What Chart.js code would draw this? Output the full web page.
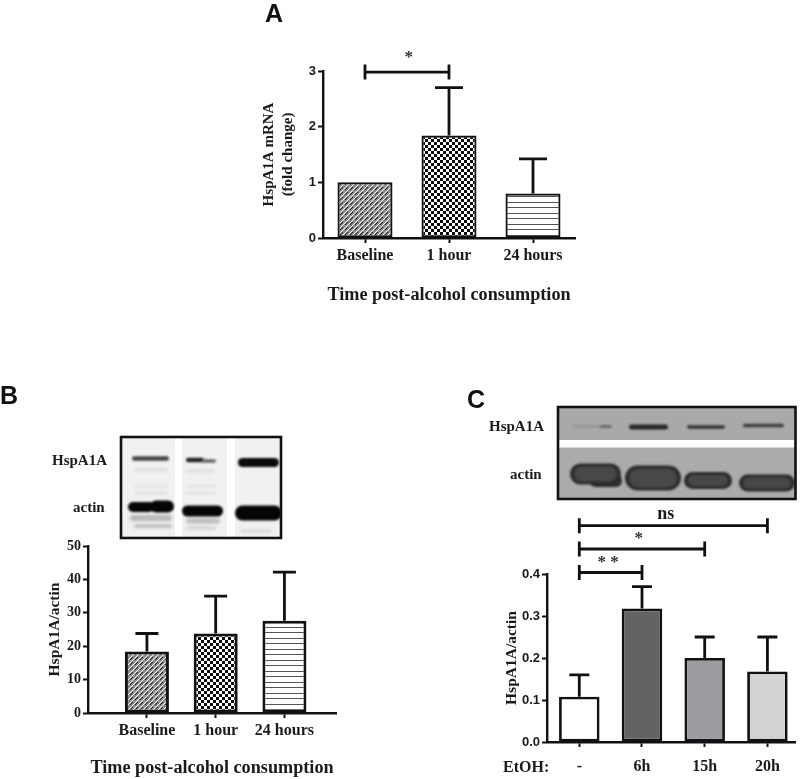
<!DOCTYPE html>
<html><head><meta charset="utf-8">
<style>
html,body{margin:0;padding:0;background:#fff;width:800px;height:779px;overflow:hidden}
canvas{position:absolute;display:block}
.t{position:absolute;white-space:nowrap;line-height:1;color:#1a1a1a}
.s{font:bold 15px "Liberation Serif",serif}
.p{font:bold 25px "Liberation Sans",sans-serif;color:#111}
</style>
<script src="https://cdn.jsdelivr.net/npm/chart.js@4/dist/chart.umd.js"></script>
</head><body>
<canvas id="blots" width="800" height="779" style="left:0;top:0;filter:blur(.5px)"></canvas>
<canvas id="cA" width="325" height="266" style="left:260px;top:40px;filter:blur(.3px)"></canvas>
<canvas id="cB" width="299" height="259" style="left:45px;top:520px;filter:blur(.3px)"></canvas>
<canvas id="cC" width="298" height="279" style="left:502px;top:500px;filter:blur(.3px)"></canvas>
<div class="t p" style="left:265px;top:-1px">A</div>
<div class="t p" style="left:0;top:381px">B</div>
<div class="t p" style="left:467px;top:385px">C</div>
<div class="t s" style="left:52px;top:452px">HspA1A</div>
<div class="t s" style="left:73px;top:499px">actin</div>
<div class="t s" style="left:489px;top:418px">HspA1A</div>
<div class="t s" style="left:510px;top:466px">actin</div>
<div class="t s" style="left:503px;top:758px;font-size:16px">EtOH:</div>
<script>
const catsA = ['Baseline','1 hour','24 hours'];
const valuesA = [1, 1.84, 0.8];
const errTopA = [null, 2.7, 1.42];
const bracketsA = [[0, 1, 2.98, '*', 0.52]];
const catsB = ['Baseline','1 hour','24 hours'];
const valuesB = [18.4, 23.8, 27.6];
const errTopB = [23.8, 35, 42.2];
const catsC = ['-','6h','15h','20h'];
const valuesC = [0.108, 0.318, 0.2, 0.168];
const errTopC = [0.16, 0.37, 0.25, 0.25];
const bracketsC = [[0, 1, 0.4036, '**', 0.46],[0, 2, 0.4595, '*', 0.95],[0, 3, 0.515, 'ns', 1.38]];

const SERIF='"Liberation Serif",serif', SANS='"Liberation Sans",sans-serif';
function tile(w,h,draw){const c=document.createElement('canvas');c.width=w;c.height=h;const x=c.getContext('2d');x.fillStyle='#fff';x.fillRect(0,0,w,h);draw(x);return x.createPattern(c,'repeat');}
const patHatch=tile(5,5,x=>{x.fillStyle='#8c8c8c';x.fillRect(0,0,5,5);
  x.fillStyle='#1c1c1c';[[0,4],[1,3],[2,2]].forEach(p=>x.fillRect(p[0],p[1],1,1));
  x.fillStyle='#ffffff';[[3,4],[4,3],[0,2],[1,1],[2,0]].forEach(p=>x.fillRect(p[0],p[1],1,1));});
const patCheck=tile(6,6,x=>{x.fillStyle='#0c0c0c';x.fillRect(0,0,3,3);x.fillRect(3,3,3,3);});
const patLines=tile(6,11,x=>{x.fillStyle='#555';x.fillRect(0,2,6,1);x.fillRect(0,8,6,1);});

function bracketAndError(cfg){return {id:'marks',afterDatasetsDraw(ch){
  const c=ch.ctx,xs=ch.scales.x,ys=ch.scales.y;c.save();c.strokeStyle='#111';c.fillStyle='#1a1a1a';c.lineCap='butt';
  c.lineWidth=cfg.errW;
  cfg.err.forEach((t,i)=>{if(t==null)return;const px=xs.getPixelForValue(i),a=ys.getPixelForValue(cfg.vals[i]),b=ys.getPixelForValue(t);
    c.beginPath();c.moveTo(px,a);c.lineTo(px,b);c.moveTo(px-cfg.cap,b);c.lineTo(px+cfg.cap,b);c.stroke();});
  (cfg.brackets||[]).forEach(k=>{const l=xs.getPixelForValue(k[0]),r=xs.getPixelForValue(k[1]),y=ys.getPixelForValue(k[2]);
    c.lineWidth=2.8;c.beginPath();c.moveTo(l,y);c.lineTo(r,y);c.moveTo(l,y-7.5);c.lineTo(l,y+7.5);c.moveTo(r,y-7.5);c.lineTo(r,y+7.5);c.stroke();
    c.textAlign='center';c.textBaseline='middle';
    if(k[3]==='ns'){c.font='bold 18px '+SERIF;c.fillText(k[3],xs.getPixelForValue(k[4]),y-11);}
    else{c.font='bold 17px '+SERIF;c.fillStyle='#333';c.fillText(k[3].split('').join(' '),xs.getPixelForValue(k[4]),y-cfg.labelDy);c.fillStyle='#1a1a1a';}
  });
  c.restore();}};}

function make(id,o){
  new Chart(document.getElementById(id),{
    type:'bar',
    data:{datasets:[{data:o.vals.map((v,i)=>({x:i,y:v})),backgroundColor:o.fill,borderColor:'#111',borderWidth:o.bw,borderSkipped:false,categoryPercentage:1,barPercentage:o.barPct}]},
    options:{responsive:false,animation:false,
      layout:{padding:{left:0,right:o.padR,top:o.padT,bottom:0}},
      plugins:{legend:{display:false},tooltip:{enabled:false}},
      scales:{
        x:{type:'linear',min:o.xMin,max:o.xMax,offset:false,
          afterBuildTicks:s=>{s.ticks=o.cats.map((c,i)=>({value:i}));},
          afterFit:s=>{s.height=o.xH;},
          grid:{display:true,offset:false,drawOnChartArea:false,drawTicks:true,tickLength:5,tickColor:'#111',tickWidth:2},
          border:{color:'#111',width:2.4},
          ticks:{autoSkip:false,maxRotation:0,minRotation:0,padding:o.xPad,color:'#1a1a1a',font:{family:SERIF,weight:'bold',size:16},callback:v=>o.cats[v]},
          title:o.xTitle?{display:true,text:o.xTitle,color:'#1a1a1a',padding:0,font:{family:SERIF,weight:'bold',size:18.2}}:{display:false}},
        y:{min:0,max:o.yMax,
          afterFit:s=>{s.width=o.yW;},
          grid:{display:true,offset:false,drawOnChartArea:false,drawTicks:true,tickLength:5,tickColor:'#111',tickWidth:2},
          border:{color:'#111',width:2.4},
          ticks:{stepSize:o.step,padding:2,color:'#1a1a1a',font:o.yFont,callback:o.yFmt},
          title:{display:true,text:o.yTitle,color:'#1a1a1a',padding:0,font:{family:SERIF,weight:'bold',size:o.yTitleSize,lineHeight:1.25}}}
      }},
    plugins:[bracketAndError(o)]
  });
}
const sansBold={family:SANS,weight:'bold',size:13};
make('cA',{cats:catsA,vals:valuesA,err:errTopA,brackets:bracketsA,labelDy:15,fill:[patHatch,patCheck,patLines],bw:2.2,errW:2.8,cap:14,barPct:0.655,
  padR:10,padT:31,xMin:-0.5,xMax:2.5,xH:68,xPad:3,xTitle:'Time post-alcohol consumption',yMax:3,yW:63,step:1,yFont:sansBold,yFmt:v=>v,yTitle:['HspA1A mRNA','(fold change)'],yTitleSize:15});
make('cB',{cats:catsB,vals:valuesB,err:errTopB,fill:[patHatch,patCheck,patLines],bw:3,errW:2.8,cap:11.5,barPct:0.64,
  padR:8,padT:26,xMin:-0.857,xMax:2.75,xH:66,xPad:3,xTitle:'Time post-alcohol consumption',yMax:50,yW:43,step:10,yFont:{family:SERIF,weight:'bold',size:14},yFmt:v=>v,yTitle:'HspA1A/actin',yTitleSize:15.5});
make('cC',{cats:catsC,vals:valuesC,err:errTopC,brackets:bracketsC,labelDy:10,fill:['#ffffff','#636363','#9c9ca0','#d2d2d2'],bw:2.8,errW:2.8,cap:10,barPct:0.646,
  padR:5,padT:74,xMin:-0.515,xMax:3.44,xH:37,xPad:10,yMax:0.4,yW:45,step:0.1,yFont:sansBold,yFmt:v=>Number(v).toFixed(1),yTitle:'HspA1A/actin',yTitleSize:15.5});

// western-blot photographs (decorative panels, not chart data)
(function(){
  const c=document.getElementById('blots').getContext('2d');
  function band(x,y,w,h,col,b){c.save();c.filter='blur('+b+'px)';c.fillStyle=col;c.beginPath();c.roundRect(x,y-h/2,w,h,h/2);c.fill();c.restore();}
  // panel B
  c.fillStyle='#f1f1f1';c.fillRect(120,436,162,103);
  c.fillStyle='#fff';c.fillRect(175,438,7,99);c.fillRect(227,438,8,99);
  [[134,470,34,3,'#dcdcdc'],[186,471,28,3,'#dcdcdc'],[134,486,34,3,'#e2e2e2'],[134,493,34,3,'#e0e0e0'],[186,486,30,2,'#ddd'],[186,493,30,2,'#ddd'],
   [130,518,42,6,'#b8b8b8'],[134,526,38,4,'#bdbdbd'],[186,521,34,5,'#bcbcbc'],[186,528,30,3,'#cfcfcf'],[240,531,32,3,'#d5d5d5']].forEach(b=>band(b[0],b[1],b[2],b[3],b[4],1.4));
  band(132,458.5,37,4.5,'#444',1);band(186,460,18,4.5,'#222',1);band(202,461,14,3.5,'#666',1);
  band(238,462.5,41,9,'#0a0a0a',1);
  band(128,507,26,10,'#050505',.9);band(150,506.5,24,12,'#050505',.9);
  band(182,511,41,11,'#050505',.9);band(235,513,47,15,'#050505',1);
  c.strokeStyle='#111';c.lineWidth=2.6;c.fillStyle='#fff';c.fillRect(110,430,10,115);c.fillRect(282,430,8,115);c.strokeRect(121,437,160,101);
  // panel C
  c.fillStyle='#a9a9a9';c.fillRect(558,406,238,35);
  c.fillStyle='#ababab';c.fillRect(558,447,238,52);
  band(573,426.5,28,2.5,'#939393',.9);band(600,426.5,12,3,'#6a6a6a',.8);
  band(629,427,39,5,'#262626',.9);band(687,427,38,3.5,'#333',.8);band(743,425.5,41,3.5,'#3d3d3d',.8);
  band(590,481,32,12,'#2c2c2c',.9);
  [[570,474,51,21],[625,478,56,25],[684,480.5,48,17],[739,483,56,17]].forEach(b=>{band(b[0],b[1],b[2],b[3],'#2c2c2c',.9);band(b[0]+4,b[1],b[2]-8,b[3]-6,'#484848',1.2);});
  c.fillStyle='#fff';c.fillRect(558,440,238,7.5);
  c.strokeStyle='#111';c.lineWidth=2.6;c.strokeRect(558,407,237.5,92);
})();
</script>
</body></html>
